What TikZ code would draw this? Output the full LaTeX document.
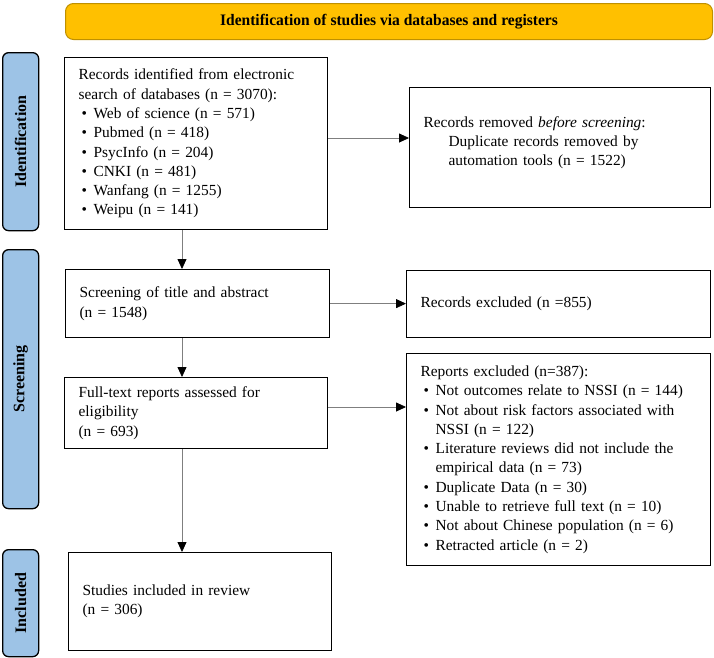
\documentclass[tikz,border=0pt]{standalone}
\usepackage{fontspec}
\setmainfont{Liberation Serif}
\usetikzlibrary{arrows.meta}
\definecolor{bannerfill}{HTML}{FFC000}
\definecolor{bannerdraw}{HTML}{BF9000}
\definecolor{labelfill}{HTML}{9DC3E6}
\definecolor{arrowgray}{HTML}{7F7F7F}
\newcommand{\bitem}[1]{\par\hangindent=15pt\hangafter=1\noindent\makebox[15pt][l]{\hspace{3pt}\textbullet}#1}
\tikzset{
  box/.style={draw=black, line width=1.2pt, fill=white, inner xsep=14pt, inner ysep=0pt,
    font=\fontsize{15.4}{19.3}\selectfont, align=left, anchor=north west},
  sidelabel/.style={draw=black, line width=1.3pt, fill=labelfill, rounded corners=6pt,
    anchor=north west, inner sep=0pt},
  sidetext/.style={rotate=90, font=\fontsize{16}{18}\selectfont\bfseries},
  flow/.style={draw=arrowgray, line width=0.8pt, -{Triangle[length=10pt,width=9pt,color=black]}},
}
\begin{document}
\begin{tikzpicture}[x=1pt,y=-1pt]
\useasboundingbox (0,0) rectangle (714,657);
% banner
\node[draw=bannerdraw, line width=1pt, fill=bannerfill, rounded corners=8pt, anchor=north west,
  minimum width=647pt, minimum height=36pt, inner sep=0pt,
  font=\fontsize{16}{18}\selectfont\bfseries] (banner) at (65,3)
  {\scalebox{0.97}[1]{Identification of studies via databases and registers}};
% side labels
\node[sidelabel, minimum width=36pt, minimum height=178pt] (lid) at (2,52) {};
\node[sidetext] (tid) at (lid.center) {Identification};
\node[sidelabel, minimum width=36pt, minimum height=259pt] (lsc) at (2,249) {};
\node[sidetext] (tsc) at (lsc.center) {Screening};
\node[sidelabel, minimum width=36pt, minimum height=107pt] (lin) at (2,549) {};
\node[sidetext] (tin) at (lin.center) {Included};
% left column
\node[box, text width=235pt, minimum height=172pt] (b1) at (64,57) {%
Records identified from electronic\\search of databases (n = 3070):%
\bitem{Web of science (n = 571)}%
\bitem{Pubmed (n = 418)}%
\bitem{PsycInfo (n = 204)}%
\bitem{CNKI (n = 481)}%
\bitem{Wanfang (n = 1255)}%
\bitem{Weipu (n = 141)}};
\node[box, text width=236pt, minimum height=68pt] (b2) at (65,269) {%
Screening of title and abstract\\(n = 1548)};
\node[box, text width=235pt, minimum height=71pt] (b3) at (64,377) {%
Full-text reports assessed for\\eligibility\\(n = 693)};
\node[box, text width=235pt, minimum height=98pt] (b4) at (68,552) {%
Studies included in review\\(n = 306)};
% right column
\node[box, text width=273pt, minimum height=120pt] (r1) at (409,87) {%
Records removed \textit{before screening}:\\
\hspace*{25pt}Duplicate records removed by\\
\hspace*{25pt}automation tools (n = 1522)\\[-6pt] \mbox{}};
\node[box, text width=276pt, minimum height=67pt] (r2) at (406,270) {%
Records excluded (n =855)};
\node[box, text width=276pt, minimum height=212pt] (r3) at (406,353) {%
Reports excluded (n=387):%
\bitem{Not outcomes relate to NSSI (n = 144)}%
\bitem{Not about risk factors associated with NSSI (n = 122)}%
\bitem{Literature reviews did not include the empirical data (n = 73)}%
\bitem{Duplicate Data (n = 30)}%
\bitem{Unable to retrieve full text (n = 10)}%
\bitem{Not about Chinese population (n = 6)}%
\bitem{Retracted article (n = 2)}};
% connectors
\coordinate (ax) at (182,0);
\draw[flow] (ax |- b1.south) -- (ax |- b2.north);
\draw[flow] (ax |- b2.south) -- (ax |- b3.north);
\draw[flow] (ax |- b3.south) -- (ax |- b4.north);
\coordinate (y1) at (0,138);
\coordinate (y3) at (0,407);
\draw[flow] (b1.east |- y1) -- (r1.west |- y1);
\draw[flow] (b2.east) -- (b2.east -| r2.west);
\draw[flow] (b3.east |- y3) -- (r3.west |- y3);
\end{tikzpicture}
\end{document}
